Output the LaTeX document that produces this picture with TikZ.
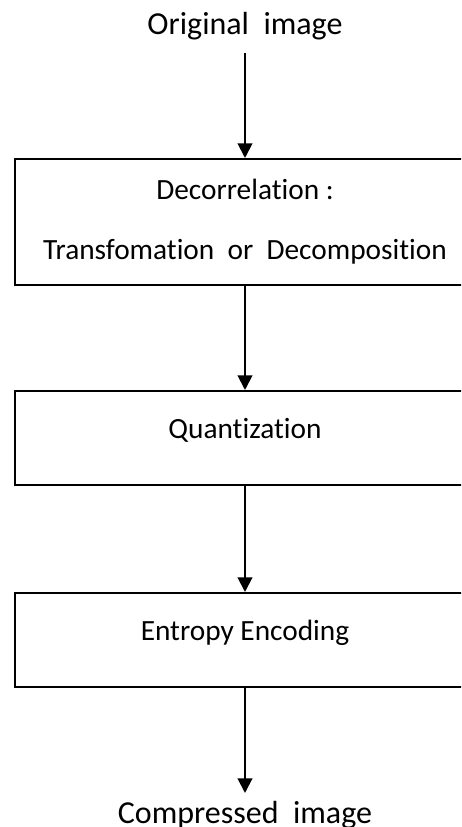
\documentclass[tikz,border=0pt]{standalone}
\usepackage{fontspec}
\setmainfont{Carlito}[Ligatures={NoCommon}]
\usetikzlibrary{positioning}
\usetikzlibrary{arrows.meta}
\tikzset{>={Triangle[width=11pt,length=11pt]}}
\tikzset{blk/.style={draw, line width=1.5pt, minimum width=345pt, inner sep=0pt, align=center, font=\fontsize{22pt}{45pt}\selectfont}}
\tikzset{one/.style={text height=10pt, text depth=10pt}}
\tikzset{lbl/.style={inner xsep=0pt, font=\fontsize{24pt}{28pt}\selectfont, text height=16pt, text depth=4.5pt}}

\begin{document}
\begin{tikzpicture}[on grid, line width=1.5pt]
        \useasboundingbox (-183.75pt,166.5pt) rectangle (162pt,-453.75pt);
        \clip (-183.75pt,166.5pt) rectangle (162pt,-453.75pt);

        \node[blk, minimum height=94.5pt] (decor) at (0,0) {Decorrelation :\\Transfomation\ \ or\ \ Decomposition};
        \node[lbl, inner ysep=8.25pt, above=146pt of decor] (orig) {Original\ \ image};
        \node[blk, one, minimum height=70.5pt, below=162pt of decor] (quant) {Quantization};
        \node[blk, one, minimum height=70.5pt, below=151.5pt of quant] (entropy) {Entropy Encoding};
        \node[lbl, inner ysep=5.75pt, below=131.5pt of entropy] (comp) {Compressed\ \ image};

        \draw [->] (orig) -- (decor);
        \draw [->] (decor) -- (quant);
        \draw [->] (quant) -- (entropy);
        \draw [->] (entropy) -- (comp);
    \end{tikzpicture}
\end{document}
